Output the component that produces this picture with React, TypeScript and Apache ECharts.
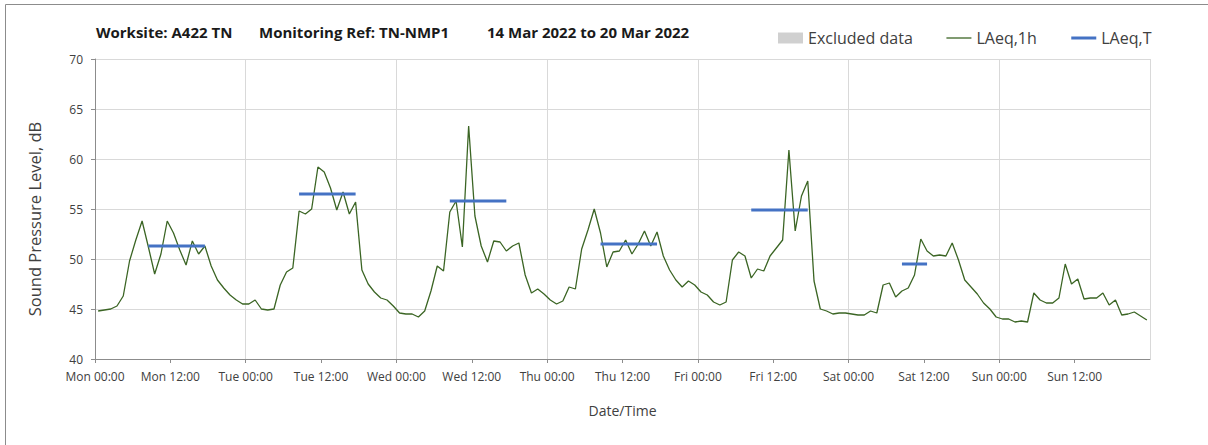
import React, { useEffect, useRef } from "react";
import * as echarts from "echarts";

// ---------- data ----------
const xTickLabels = [
  "Mon 00:00", "Mon 12:00", "Tue 00:00", "Tue 12:00", "Wed 00:00", "Wed 12:00",
  "Thu 00:00", "Thu 12:00", "Fri 00:00", "Fri 12:00", "Sat 00:00", "Sat 12:00",
  "Sun 00:00", "Sun 12:00",
];

// hourly LAeq,1h (dB), one value per hour 00:00..23:00
const monLAeq1h = [44.8, 44.9, 45.0, 45.3, 46.3, 49.8, 51.9, 53.8, 51.2, 48.5, 50.5, 53.8, 52.6, 50.9, 49.4, 51.8, 50.5, 51.3, 49.3, 47.9, 47.1, 46.4, 45.9, 45.5];
const tueLAeq1h = [45.5, 45.9, 45.0, 44.9, 45.0, 47.4, 48.7, 49.1, 54.8, 54.5, 55.0, 59.2, 58.7, 57.1, 54.9, 56.7, 54.5, 55.7, 48.9, 47.5, 46.7, 46.1, 45.9, 45.3];
const wedLAeq1h = [44.6, 44.5, 44.5, 44.2, 44.8, 46.8, 49.3, 48.8, 54.7, 55.8, 51.2, 63.3, 54.3, 51.3, 49.7, 51.8, 51.7, 50.8, 51.3, 51.6, 48.4, 46.6, 47.0, 46.5];
const thuLAeq1h = [45.9, 45.5, 45.8, 47.2, 47.0, 51.0, 52.9, 55.0, 52.6, 49.2, 50.7, 50.8, 51.9, 50.5, 51.5, 52.8, 51.3, 52.7, 50.3, 48.9, 47.9, 47.2, 47.8, 47.4];
const friLAeq1h = [46.7, 46.4, 45.7, 45.4, 45.7, 49.9, 50.7, 50.3, 48.1, 49.0, 48.8, 50.3, 51.1, 51.9, 60.9, 52.8, 56.3, 57.8, 47.8, 45.0, 44.8, 44.5, 44.6, 44.6];
const satLAeq1h = [44.5, 44.4, 44.4, 44.8, 44.6, 47.4, 47.6, 46.2, 46.8, 47.1, 48.4, 52.0, 50.8, 50.3, 50.4, 50.3, 51.6, 49.9, 47.9, 47.2, 46.5, 45.6, 45.0, 44.2];
const sunLAeq1h = [44.0, 44.0, 43.7, 43.8, 43.7, 46.6, 45.9, 45.6, 45.6, 46.1, 49.5, 47.5, 48.0, 46.0, 46.1, 46.1, 46.6, 45.4, 45.9, 44.4, 44.5, 44.7, 44.3, 43.9];

// LAeq,T per working period
const laeqTDayIndex = [0, 1, 2, 3, 4, 5];
const laeqTStartHour = [8, 8, 8, 8, 8, 8];
const laeqTEndHour = [17, 17, 17, 17, 17, 12];
const laeqTValues = [51.3, 56.5, 55.8, 51.5, 54.9, 49.5];

// excluded data (none in this period)
const excludedData: number[][] = [];

const FONT = "'Open Sans', 'Noto Sans', sans-serif";

export default function App() {
  const ref = useRef<HTMLDivElement>(null);

  useEffect(() => {
    document.body.style.margin = "0";
    if (!ref.current) return;
    const chart = echarts.init(ref.current, undefined, { renderer: "svg" });

    const allHours = [
      ...monLAeq1h, ...tueLAeq1h, ...wedLAeq1h, ...thuLAeq1h,
      ...friLAeq1h, ...satLAeq1h, ...sunLAeq1h,
    ];
    const laeq1hData = allHours.map((v, i) => [i + 0.5, v]);

    const laeqTData: any[] = [];
    laeqTValues.forEach((v, k) => {
      const d = laeqTDayIndex[k];
      for (let h = laeqTStartHour[k]; h <= laeqTEndHour[k]; h++) {
        laeqTData.push([d * 24 + h + 0.5, v]);
      }
      laeqTData.push([d * 24 + 22, "-"]);
    });

    const axisColor = "#8c8c8c";
    const gridColor = "#d9d9d9";
    const textColor = "#404040";

    chart.setOption({
      animation: false,
      backgroundColor: "#ffffff",
      textStyle: { fontFamily: FONT },
      grid: { left: 95, top: 59, width: 1055, height: 300, containLabel: false },
      legend: {
        left: 773,
        top: 25,
        itemWidth: 25,
        itemHeight: 11,
        itemGap: 33,
        textStyle: { fontSize: 16, color: textColor, fontFamily: FONT },
        data: [
          { name: "Excluded data", icon: "rect" },
          { name: "LAeq,1h", itemStyle: { opacity: 0 }, lineStyle: { width: 1.3 } },
          { name: "LAeq,T", itemStyle: { opacity: 0 }, lineStyle: { width: 3 } },
        ],
      },
      xAxis: [
        {
          type: "value",
          min: 0,
          max: 168,
          interval: 12,
          name: "Date/Time",
          nameLocation: "middle",
          nameGap: 44,
          nameTextStyle: { fontSize: 14, color: textColor, fontFamily: FONT },
          axisLine: { show: true, lineStyle: { color: axisColor, width: 1 } },
          axisTick: { show: true, length: 4, lineStyle: { color: axisColor } },
          axisLabel: {
            showMaxLabel: false,
            margin: 11,
            fontSize: 12,
            color: textColor,
            fontFamily: FONT,
            formatter: (v: number) => xTickLabels[Math.round(v / 12)] ?? "",
          },
          splitLine: { show: false },
        },
        {
          type: "value",
          min: 0,
          max: 168,
          interval: 24,
          position: "bottom",
          axisLine: { show: false },
          axisTick: { show: false },
          axisLabel: { show: false },
          splitLine: { show: true, lineStyle: { color: gridColor, width: 1 } },
        },
      ],
      yAxis: {
        type: "value",
        min: 40,
        max: 70,
        interval: 5,
        axisLine: { show: true, lineStyle: { color: axisColor, width: 1 } },
        axisTick: { show: true, length: 4, lineStyle: { color: axisColor } },
        axisLabel: { margin: 12, fontSize: 12, color: textColor, fontFamily: FONT },
        splitLine: { show: true, lineStyle: { color: gridColor, width: 1 } },
      },
      series: [
        {
          name: "Excluded data",
          type: "bar",
          data: excludedData,
          itemStyle: { color: "#d0d0d0" },
        },
        {
          name: "LAeq,1h",
          type: "line",
          data: laeq1hData,
          symbol: "none",
          showSymbol: false,
          lineStyle: { color: "#3b6524", width: 1.3 },
          itemStyle: { color: "#3b6524" },
          z: 3,
        },
        {
          name: "LAeq,T",
          type: "line",
          data: laeqTData,
          symbol: "none",
          showSymbol: false,
          connectNulls: false,
          lineStyle: { color: "#4472c4", width: 3 },
          itemStyle: { color: "#4472c4" },
          z: 4,
        },
      ],
      graphic: [
        {
          type: "rect",
          silent: true,
          shape: { x: 5.5, y: 4.5, width: 1300, height: 600 },
          style: { fill: "none", stroke: "#8c8c8c", lineWidth: 1 },
          z: -10,
        },
        {
          type: "text",
          x: 34,
          y: 219,
          rotation: Math.PI / 2,
          style: {
            text: "Sound Pressure Level, dB",
            font: `16.5px ${FONT}`,
            fill: textColor,
            align: "center",
            verticalAlign: "middle",
          },
        },
        {
          type: "text",
          left: 96,
          top: 24,
          style: { text: "Worksite: A422 TN", font: `bold 15px ${FONT}`, fill: "#1a1a1a" },
        },
        {
          type: "text",
          left: 259,
          top: 24,
          style: { text: "Monitoring Ref: TN-NMP1", font: `bold 15px ${FONT}`, fill: "#1a1a1a" },
        },
        {
          type: "text",
          left: 487,
          top: 24,
          style: { text: "14 Mar 2022 to 20 Mar 2022", font: `bold 15px ${FONT}`, fill: "#1a1a1a" },
        },
      ],
    });

    return () => chart.dispose();
  }, []);

  return <div ref={ref} style={{ width: 1208, height: 445 }} />;
}
